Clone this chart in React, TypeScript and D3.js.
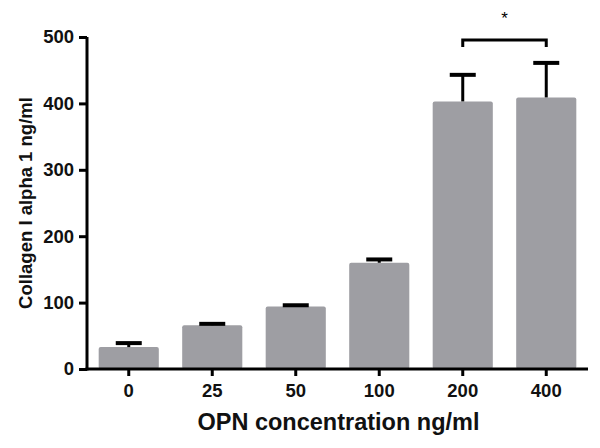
import React, { useEffect, useRef } from "react";
import * as d3 from "d3";

// OPN concentrations (ng/ml) and measured Collagen I alpha 1 (ng/ml)
const categories = ["0", "25", "50", "100", "200", "400"];
const means = [33, 66, 94, 160, 403, 409];
const errors = [6, 2, 2, 5, 40, 52];
const yTicks = [0, 100, 200, 300, 400, 500];
const sigPair = ["200", "400"];

const App = () => {
  const ref = useRef<SVGSVGElement>(null);

  useEffect(() => {
    const svg = d3.select(ref.current);
    svg.selectAll("*").remove();

    const left = 87;
    const right = 588;
    const top = 37;
    const bottom = 369;
    const font = "'Liberation Sans', Arial, sans-serif";

    const x = d3
      .scaleBand()
      .domain(categories)
      .range([left, right])
      .paddingInner(0.28)
      .paddingOuter(0.14);
    const y = d3.scaleLinear().domain([0, 500]).range([bottom, top]);

    const rows = categories.map((c, i) => ({ c, m: means[i], e: errors[i] }));

    // bars
    svg
      .append("g")
      .selectAll("rect")
      .data(rows)
      .enter()
      .append("rect")
      .attr("x", (d) => x(d.c)!)
      .attr("y", (d) => y(d.m))
      .attr("width", x.bandwidth())
      .attr("height", (d) => y(0) - y(d.m))
      .attr("rx", 2)
      .attr("fill", "#9e9ea3");

    // error bars (upper only)
    const capW = 26;
    const eb = svg.append("g").attr("stroke", "#000").attr("stroke-width", 3);
    rows.forEach((d) => {
      const cx = x(d.c)! + x.bandwidth() / 2;
      eb.append("line")
        .attr("x1", cx)
        .attr("x2", cx)
        .attr("y1", y(d.m))
        .attr("y2", y(d.m + d.e));
      eb.append("line")
        .attr("x1", cx - capW / 2)
        .attr("x2", cx + capW / 2)
        .attr("y1", y(d.m + d.e))
        .attr("y2", y(d.m + d.e))
        .attr("stroke-width", 4);
    });

    // y axis
    const yAxis = svg
      .append("g")
      .attr("transform", `translate(${left},0)`)
      .call(d3.axisLeft(y).tickValues(yTicks).tickSize(8).tickSizeOuter(0).tickPadding(5));
    yAxis.select(".domain").attr("stroke-width", 3).attr("d", `M0,${top}V${bottom + 1.5}`);
    yAxis.selectAll(".tick line").attr("stroke-width", 3);
    yAxis
      .selectAll("text")
      .attr("font-family", font)
      .attr("font-weight", "bold")
      .attr("font-size", 18.5)
      .attr("fill", "#111");

    // x axis
    const xAxis = svg
      .append("g")
      .attr("transform", `translate(0,${bottom})`)
      .call(d3.axisBottom(x).tickSize(7).tickSizeOuter(0).tickPadding(8));
    xAxis.select(".domain").attr("stroke-width", 3).attr("d", `M${left - 1.5},0H${right}`);
    xAxis.selectAll(".tick line").attr("stroke-width", 3);
    xAxis
      .selectAll("text")
      .attr("font-family", font)
      .attr("font-weight", "bold")
      .attr("font-size", 18.5)
      .attr("fill", "#111");

    // significance bracket
    const x1 = x(sigPair[0])! + x.bandwidth() / 2;
    const x2 = x(sigPair[1])! + x.bandwidth() / 2;
    svg
      .append("path")
      .attr("d", `M${x1},${47}V${40}H${x2}V${47}`)
      .attr("fill", "none")
      .attr("stroke", "#000")
      .attr("stroke-width", 3);
    svg
      .append("text")
      .attr("x", (x1 + x2) / 2)
      .attr("y", 24)
      .attr("text-anchor", "middle")
      .attr("font-family", font)
      .attr("font-size", 17)
      .text("*");

    // axis titles
    svg
      .append("text")
      .attr("x", (left + right) / 2 + 1)
      .attr("y", 430)
      .attr("text-anchor", "middle")
      .attr("font-family", font)
      .attr("font-weight", "bold")
      .attr("font-size", 23.5)
      .attr("fill", "#111")
      .text("OPN concentration ng/ml");
    svg
      .append("text")
      .attr("transform", `translate(32,${(top + bottom) / 2}) rotate(-90)`)
      .attr("text-anchor", "middle")
      .attr("font-family", font)
      .attr("font-weight", "bold")
      .attr("font-size", 18.5)
      .attr("fill", "#111")
      .text("Collagen I alpha 1 ng/ml");
  }, []);

  return (
    <svg
      ref={ref}
      width={600}
      height={448}
      style={{ position: "absolute", left: 0, top: 0, background: "#fff" }}
    />
  );
};

export default App;
